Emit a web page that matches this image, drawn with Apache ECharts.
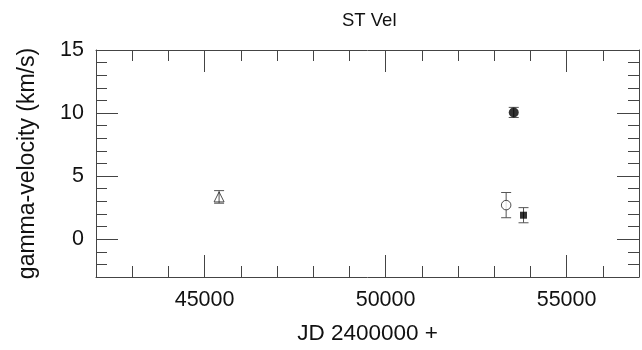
<!DOCTYPE html>
<html>
<head>
<meta charset="utf-8">
<script src="https://cdn.jsdelivr.net/npm/echarts@6/dist/echarts.min.js"></script>
<style>
  html, body { margin: 0; padding: 0; background: #fff; }
  #chart { width: 642px; height: 350px; }
</style>
</head>
<body>
<div id="chart"></div>
<script>
// Gamma-velocity measurements of ST Vel (JD - 2400000, km/s, 1-sigma errors)
const triangleJD = [45400];
const triangleVel = [3.35];
const triangleErr = [0.5];

const openCircleJD = [53330];
const openCircleVel = [2.7];
const openCircleErr = [1.0];

const filledCircleJD = [53540];
const filledCircleVel = [10.05];
const filledCircleErr = [0.4];

const squareJD = [53810];
const squareVel = [1.9];
const squareErr = [0.6];

// Axis ranges and labelled (major) tick values
const xMin = 42000, xMax = 57000, xMinorStep = 1000;
const yMin = -3, yMax = 15, yMinorStep = 1;
const xMajorTicks = [45000, 50000, 55000];
const yMajorTicks = [0, 5, 10];

const FONT = 'Liberation Sans, Arial, Helvetica, sans-serif';
const LINE = '#444';
const TEXT = '#111';

function pts(xs, ys, es) {
  return xs.map((x, i) => es ? [x, ys[i], es[i]] : [x, ys[i]]);
}

const chart = echarts.init(document.getElementById('chart'), null, { renderer: 'canvas' });

function minorX(pos, showLabels) {
  return {
    type: 'value', position: pos, min: xMin, max: xMax, interval: xMinorStep,
    axisLine: { show: true, onZero: false, lineStyle: { color: LINE, width: 1 } },
    axisTick: { show: true, inside: true, length: 11, lineStyle: { color: LINE, width: 1 } },
    axisLabel: showLabels ? {
      show: true, interval: 0, margin: 12, color: TEXT, fontSize: 21.5, fontFamily: FONT,
      formatter: v => (xMajorTicks.indexOf(v) >= 0 ? String(v) : '')
    } : { show: false },
    splitLine: { show: false },
    name: showLabels ? 'JD 2400000 +' : '',
    nameLocation: 'middle', nameGap: 45,
    nameTextStyle: { color: TEXT, fontSize: 22.5, fontFamily: FONT }
  };
}
function majorX(pos) {
  return {
    type: 'value', position: pos, min: xMin, max: xMax,
    axisLine: { show: false, onZero: false },
    axisTick: { show: true, inside: true, length: 22, customValues: xMajorTicks, lineStyle: { color: LINE, width: 1 } },
    axisLabel: { show: false },
    splitLine: { show: false }
  };
}
function minorY(pos, showLabels) {
  return {
    type: 'value', position: pos, min: yMin, max: yMax, interval: yMinorStep,
    axisLine: { show: true, onZero: false, lineStyle: { color: LINE, width: 1 } },
    axisTick: { show: true, inside: true, length: 11, lineStyle: { color: LINE, width: 1 } },
    axisLabel: showLabels ? {
      show: true, interval: 0, margin: 12, color: TEXT, fontSize: 21.5, fontFamily: FONT,
      formatter: v => (v % 5 === 0 && v >= 0 ? String(v) : '')
    } : { show: false },
    splitLine: { show: false },
    name: showLabels ? 'gamma-velocity (km/s)' : '',
    nameLocation: 'middle', nameGap: 57,
    nameTextStyle: { color: TEXT, fontSize: 23, fontFamily: FONT }
  };
}
function majorY(pos) {
  return {
    type: 'value', position: pos, min: yMin, max: yMax,
    axisLine: { show: false, onZero: false },
    axisTick: { show: true, inside: true, length: 22, customValues: yMajorTicks, lineStyle: { color: LINE, width: 1 } },
    axisLabel: { show: false },
    splitLine: { show: false }
  };
}

function errorBars(data) {
  return {
    type: 'custom',
    xAxisIndex: 0, yAxisIndex: 0,
    z: 1,
    data: data,
    renderItem: function (params, api) {
      const x = api.value(0), y = api.value(1), e = api.value(2);
      const top = api.coord([x, y + e]);
      const bot = api.coord([x, y - e]);
      const hw = 5;
      const style = { stroke: '#555', lineWidth: 1 };
      return {
        type: 'group',
        children: [
          { type: 'line', shape: { x1: top[0], y1: top[1], x2: bot[0], y2: bot[1] }, style },
          { type: 'line', shape: { x1: top[0] - hw, y1: top[1], x2: top[0] + hw, y2: top[1] }, style },
          { type: 'line', shape: { x1: bot[0] - hw, y1: bot[1], x2: bot[0] + hw, y2: bot[1] }, style }
        ]
      };
    }
  };
}

const option = {
  backgroundColor: '#fff',
  animation: false,
  title: {
    text: 'ST Vel', left: 337, top: 6,
    textStyle: { color: TEXT, fontSize: 18.5, fontWeight: 'normal', fontFamily: FONT }
  },
  grid: { left: 96, top: 50, width: 549, height: 232, containLabel: false },
  xAxis: [minorX('bottom', true), majorX('bottom'), minorX('top', false), majorX('top')],
  yAxis: [minorY('left', true), majorY('left'), minorY('right', false), majorY('right')],
  series: [
    errorBars(pts(triangleJD, triangleVel, triangleErr)),
    errorBars(pts(openCircleJD, openCircleVel, openCircleErr)),
    errorBars(pts(filledCircleJD, filledCircleVel, filledCircleErr)),
    errorBars(pts(squareJD, squareVel, squareErr)),
    {
      type: 'scatter', z: 2, symbol: 'triangle', symbolSize: [10, 10],
      data: pts(triangleJD, triangleVel),
      itemStyle: { color: 'rgba(0,0,0,0)', borderColor: '#222', borderWidth: 1 }
    },
    {
      type: 'scatter', z: 2, symbol: 'circle', symbolSize: 9.5,
      data: pts(openCircleJD, openCircleVel),
      itemStyle: { color: '#fff', borderColor: '#222', borderWidth: 1 }
    },
    {
      type: 'scatter', z: 2, symbol: 'circle', symbolSize: 10,
      data: pts(filledCircleJD, filledCircleVel),
      itemStyle: { color: '#000' }
    },
    {
      type: 'scatter', z: 2, symbol: 'rect', symbolSize: 7,
      data: pts(squareJD, squareVel),
      itemStyle: { color: '#000' }
    }
  ]
};

chart.setOption(option);
</script>
</body>
</html>
